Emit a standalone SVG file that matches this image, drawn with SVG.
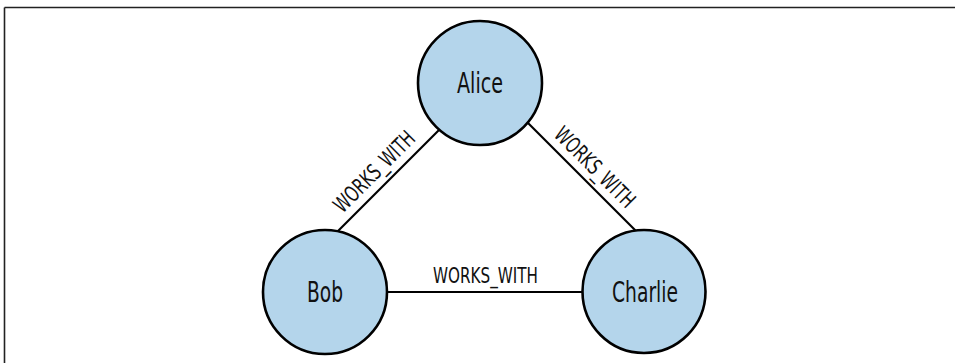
<svg xmlns="http://www.w3.org/2000/svg" width="955" height="363" viewBox="0 0 955 363">
<style>
.frame{stroke:#222;stroke-width:1.6;fill:none}
.edge{stroke:#000;stroke-width:2.2;fill:none}
.node{fill:#b4d5eb;stroke:#000;stroke-width:2.6}
.nlabel{font-family:"Liberation Sans Narrow","DejaVu Sans Condensed","Liberation Sans",sans-serif;font-size:29px;fill:#111;text-anchor:middle}
.elabel{font-family:"Liberation Sans Narrow","DejaVu Sans Condensed","Liberation Sans",sans-serif;font-size:22px;fill:#111;text-anchor:middle}
</style>
<rect width="955" height="363" fill="#fff"/>
<g id="frame">
<line class="frame" x1="4.5" y1="7.5" x2="955" y2="7.5"/>
<line class="frame" x1="4.5" y1="7.5" x2="4.5" y2="363"/>
</g>
<g id="connectors">
<line class="edge" x1="442" y1="127" x2="336" y2="233"/>
<line class="edge" x1="524" y1="119" x2="638" y2="233"/>
<line class="edge" x1="380" y1="292" x2="590" y2="292"/>
<text class="elabel" transform="translate(379.5,177) rotate(-45)" textLength="105" lengthAdjust="spacingAndGlyphs">WORKS_WITH</text>
<text class="elabel" transform="translate(589.5,172.5) rotate(45)" textLength="104" lengthAdjust="spacingAndGlyphs">WORKS_WITH</text>
<text class="elabel" x="485.5" y="283" textLength="105" lengthAdjust="spacingAndGlyphs">WORKS_WITH</text>
</g>
<g id="alice">
<circle class="node" cx="480" cy="83" r="62"/>
<text class="nlabel" x="480" y="93" textLength="46" lengthAdjust="spacingAndGlyphs">Alice</text>
</g>
<g id="bob">
<circle class="node" cx="325" cy="292" r="62"/>
<text class="nlabel" x="325" y="301.5" textLength="36" lengthAdjust="spacingAndGlyphs">Bob</text>
</g>
<g id="charlie">
<circle class="node" cx="644" cy="291.5" r="61.5"/>
<text class="nlabel" x="645" y="301.5" textLength="66" lengthAdjust="spacingAndGlyphs">Charlie</text>
</g>
</svg>
